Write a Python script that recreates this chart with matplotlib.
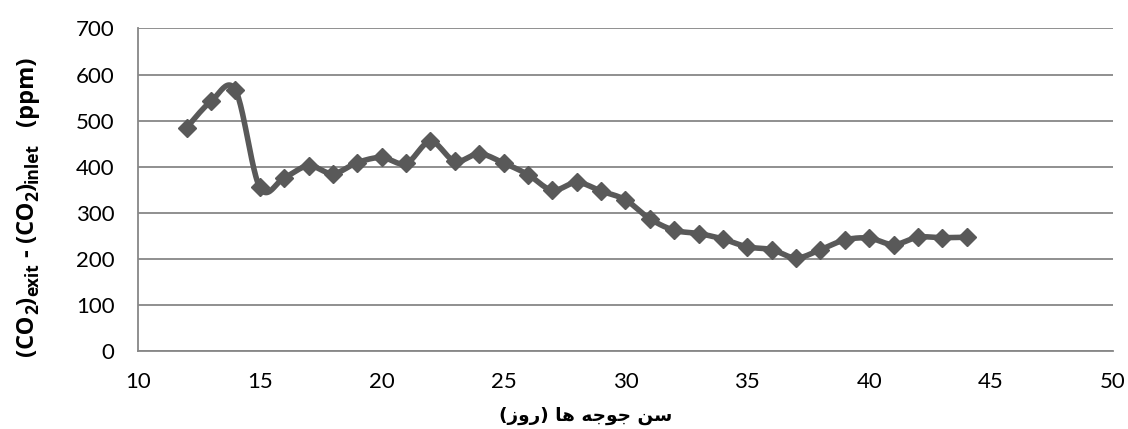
import numpy as np
import matplotlib
matplotlib.use("Agg")
import matplotlib.pyplot as plt
from matplotlib.transforms import IdentityTransform

days = [12, 13, 14, 15, 16, 17, 18, 19, 20, 21, 22, 23, 24, 25, 26, 27, 28,
        29, 30, 31, 32, 33, 34, 35, 36, 37, 38, 39, 40, 41, 42, 43, 44]
co2_diff = [485, 542, 566, 355, 376, 402, 385, 409, 420, 407, 455, 412, 428,
            408, 383, 349, 366, 347, 328, 287, 262, 255, 243, 226, 220, 202,
            220, 241, 245, 231, 247, 246, 247]
x_ticks = [10, 15, 20, 25, 30, 35, 40, 45, 50]
y_ticks = [0, 100, 200, 300, 400, 500, 600, 700]

# Persian x label in visual order with presentation forms: "سن جوجه ها (روز)"
xlabel_text = "(\uFEAF\uFEED\uFEAD) \uFE8E\uFEEB \uFEEA\uFE9F\uFEEE\uFE9F \uFEE6\uFEB3"
# y label pieces: (text, is_subscript, gap_before_px)
ylabel_parts = [("(CO", False, 0), ("2", True, 0), (")", False, 0),
                ("exit", True, 0), ("-", False, 7), ("(CO", False, 7),
                ("2", True, 0), (")", False, 0), ("inlet", True, 0),
                ("(ppm)", False, 17)]

plt.rcParams['font.family'] = ['Lato', 'DejaVu Sans']
label_family = ['Open Sans', 'Liberation Sans', 'DejaVu Sans']

W, H = 1128, 429
fig = plt.figure(figsize=(W / 100, H / 100), dpi=100)
ax = fig.add_axes([0.1223, 0.1818, 0.8644, 0.7518])

# smooth (Bezier / Catmull-Rom style) curve through the data points
xs = np.array(days, dtype=float)
ys = np.array(co2_diff, dtype=float)
px = np.concatenate([[xs[0]], xs, [xs[-1]]])
py = np.concatenate([[ys[0]], ys, [ys[-1]]])
cx, cy = [], []
t = np.linspace(0, 1, 25)
for i in range(1, len(px) - 2):
    p0 = np.array([px[i], py[i]])
    p3 = np.array([px[i + 1], py[i + 1]])
    c1 = p0 + (np.array([px[i + 1], py[i + 1]]) - np.array([px[i - 1], py[i - 1]])) / 6
    c2 = p3 - (np.array([px[i + 2], py[i + 2]]) - np.array([px[i], py[i]])) / 6
    b = ((1 - t) ** 3)[:, None] * p0 + (3 * (1 - t) ** 2 * t)[:, None] * c1 + \
        (3 * (1 - t) * t ** 2)[:, None] * c2 + (t ** 3)[:, None] * p3
    cx.extend(b[:, 0])
    cy.extend(b[:, 1])

line_color = '#595959'
ax.plot(cx, cy, color=line_color, lw=4.0, solid_capstyle='round',
        solid_joinstyle='round', zorder=3)
ax.plot(days, co2_diff, linestyle='none', marker='D', markersize=9,
        color=line_color, zorder=4)

ax.set_xlim(10, 50)
ax.set_ylim(0, 700)
ax.set_xticks(x_ticks)
ax.set_yticks(y_ticks)
ax.tick_params(length=0, labelsize=16, colors='black')
ax.tick_params(axis='x', pad=15)
ax.tick_params(axis='y', pad=17)
ax.yaxis.grid(True, color='#878787', lw=1.3)
ax.set_axisbelow(True)
for s in ['top', 'right']:
    ax.spines[s].set_visible(False)
for s in ['left', 'bottom']:
    ax.spines[s].set_color('#878787')
    ax.spines[s].set_linewidth(1.3)

# --- y label built from bold pieces (rotated 90 degrees) ---
big, small = 17, 12.5
renderer = fig.canvas.get_renderer()
widths = []
for s, sub, gap in ylabel_parts:
    tmp = fig.text(0, 0, s, fontsize=small if sub else big, fontweight='bold',
                   family=label_family)
    widths.append(tmp.get_window_extent(renderer).width)
    tmp.remove()
total = sum(w + g for w, (_, _, g) in zip(widths, ylabel_parts))
center_y = H - 206
base_x = 33
pos = center_y - total / 2
for (s, sub, gap), w in zip(ylabel_parts, widths):
    pos += gap
    fig.text(base_x + (5 if sub else 0), pos, s, transform=IdentityTransform(),
             rotation=90, rotation_mode='anchor', ha='left', va='baseline',
             fontsize=small if sub else big, fontweight='bold',
             family=label_family)
    pos += w

fig.text(586 / W, 1 - 416 / H, xlabel_text, ha='center', va='center',
         fontsize=13.3, fontweight='bold', family=['DejaVu Sans'])

fig.savefig('out.png', dpi=100)
